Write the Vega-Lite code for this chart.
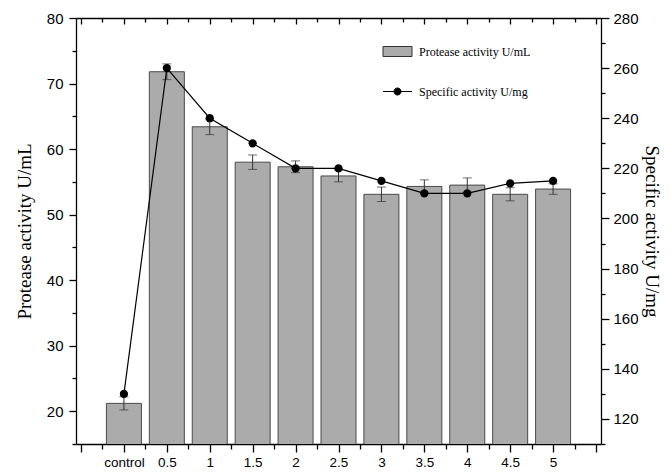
{
  "$schema": "https://vega.github.io/schema/vega-lite/v6.json",
  "width": 525,
  "height": 426,
  "autosize": {"type": "none"},
  "padding": {"left": 76, "top": 18, "right": 69, "bottom": 28},
  "background": "white",
  "config": {
    "view": {"stroke": null},
    "axis": {
      "grid": false,
      "domainColor": "black",
      "domainWidth": 1.3,
      "tickColor": "black",
      "tickWidth": 1.3,
      "labelColor": "black",
      "labelFont": "Liberation Sans",
      "labelFontSize": 14,
      "labelOverlap": false,
      "labelFlush": false,
      "titleFont": "Liberation Serif",
      "titleFontSize": 19,
      "titleFontWeight": "normal",
      "titleColor": "black"
    },
    "legend": {
      "labelFont": "Liberation Serif",
      "labelFontSize": 12,
      "labelColor": "black",
      "padding": 0,
      "symbolOffset": 0
    }
  },
  "data": {
    "values": [
      {"dose": 0, "protease": 21.2, "err": 1.0, "specific": 130},
      {"dose": 0.5, "protease": 71.8, "err": 1.2, "specific": 260},
      {"dose": 1, "protease": 63.4, "err": 1.2, "specific": 240},
      {"dose": 1.5, "protease": 58.0, "err": 1.1, "specific": 230},
      {"dose": 2, "protease": 57.3, "err": 0.9, "specific": 220},
      {"dose": 2.5, "protease": 55.9, "err": 0.9, "specific": 220},
      {"dose": 3, "protease": 53.1, "err": 1.1, "specific": 215},
      {"dose": 3.5, "protease": 54.3, "err": 1.0, "specific": 210},
      {"dose": 4, "protease": 54.5, "err": 1.1, "specific": 210},
      {"dose": 4.5, "protease": 53.1, "err": 1.0, "specific": 214},
      {"dose": 5, "protease": 53.9, "err": 0.8, "specific": 215}
    ]
  },
  "layer": [
    {
      "encoding": {
        "x": {
          "field": "dose",
          "type": "quantitative",
          "scale": {"domain": [-0.5, 5.5], "nice": false, "zero": false},
          "axis": {
            "orient": "bottom",
            "title": null,
            "values": [-0.5, -0.25, 0, 0.25, 0.5, 0.75, 1, 1.25, 1.5, 1.75, 2, 2.25, 2.5, 2.75, 3, 3.25, 3.5, 3.75, 4, 4.25, 4.5, 4.75, 5, 5.25, 5.5],
            "format": "~g",
            "labelExpr": "datum.value === 0 ? 'control' : ((datum.value % 0.5 === 0 && datum.value > 0 && datum.value < 5.5) ? datum.label : '')",
            "tickSize": {"condition": {"test": "datum.value % 0.5 === 0", "value": 8}, "value": 5},
            "labelFontSize": 13.5,
            "labelPadding": 3
          }
        },
        "y": {
          "field": "protease",
          "type": "quantitative",
          "scale": {"domain": [15, 80], "nice": false, "zero": false},
          "axis": {
            "orient": "left",
            "title": "Protease activity U/mL",
            "values": [15, 20, 25, 30, 35, 40, 45, 50, 55, 60, 65, 70, 75, 80],
            "labelExpr": "datum.value % 10 === 0 ? datum.label : ''",
            "tickSize": {"condition": {"test": "datum.value % 10 === 0", "value": 7}, "value": 4},
            "labelFontSize": 15,
            "labelPadding": 6,
            "titlePadding": 12
          }
        }
      },
      "layer": [
        {
          "mark": {"type": "bar", "size": 35, "stroke": "#4a4a4a", "strokeWidth": 1, "clip": true},
          "encoding": {
            "fill": {
              "datum": "Protease activity U/mL",
              "type": "nominal",
              "scale": {"range": ["#ababab"]},
              "legend": {
                "orient": "none",
                "legendX": 311,
                "legendY": 23,
                "title": null,
                "symbolType": "M-1.45,-0.5H1.45V0.5H-1.45Z",
                "symbolSize": 400,
                "symbolStrokeColor": "#333333",
                "symbolStrokeWidth": 1,
                "labelOffset": 11
              }
            }
          }
        },
        {
          "mark": {"type": "errorbar", "ticks": {"size": 9}, "color": "#333333", "thickness": 1},
          "encoding": {
            "yError": {"field": "err"}
          }
        }
      ]
    },
    {
      "encoding": {
        "x": {
          "field": "dose",
          "type": "quantitative",
          "scale": {"domain": [-0.5, 5.5], "nice": false, "zero": false},
          "axis": {
            "orient": "top",
            "title": null,
            "labels": false,
            "values": [-0.5, -0.25, 0, 0.25, 0.5, 0.75, 1, 1.25, 1.5, 1.75, 2, 2.25, 2.5, 2.75, 3, 3.25, 3.5, 3.75, 4, 4.25, 4.5, 4.75, 5, 5.25, 5.5],
            "tickSize": {"condition": {"test": "datum.value % 0.5 === 0", "value": -6}, "value": -4}
          }
        },
        "y": {
          "field": "specific",
          "type": "quantitative",
          "scale": {"domain": [110, 280], "nice": false, "zero": false},
          "axis": {
            "orient": "right",
            "title": "Specific activity U/mg",
            "values": [110, 120, 130, 140, 150, 160, 170, 180, 190, 200, 210, 220, 230, 240, 250, 260, 270, 280],
            "labelExpr": "datum.value % 20 === 0 ? datum.label : ''",
            "tickSize": {"condition": {"test": "datum.value % 20 === 0", "value": 8}, "value": 4},
            "labelFontSize": 15,
            "labelPadding": 4,
            "titlePadding": 3
          }
        }
      },
      "layer": [
        {
          "mark": {"type": "line", "strokeWidth": 1.2},
          "encoding": {
            "stroke": {
              "datum": "Specific activity U/mg",
              "type": "nominal",
              "scale": {"range": ["black"]},
              "legend": {
                "orient": "none",
                "legendX": 311,
                "legendY": 63,
                "title": null,
                "symbolType": "M-1.45,0H1.45M0.35,0A0.35,0.35 0 1 1 -0.35,0A0.35,0.35 0 1 1 0.35,0Z",
                "symbolSize": 400,
                "symbolFillColor": "black",
                "symbolStrokeColor": "black",
                "symbolStrokeWidth": 1,
                "labelOffset": 11
              }
            }
          }
        },
        {
          "mark": {"type": "point", "filled": true, "size": 68, "color": "black", "opacity": 1}
        }
      ]
    }
  ],
  "resolve": {"scale": {"y": "independent"}, "axis": {"x": "independent"}}
}
